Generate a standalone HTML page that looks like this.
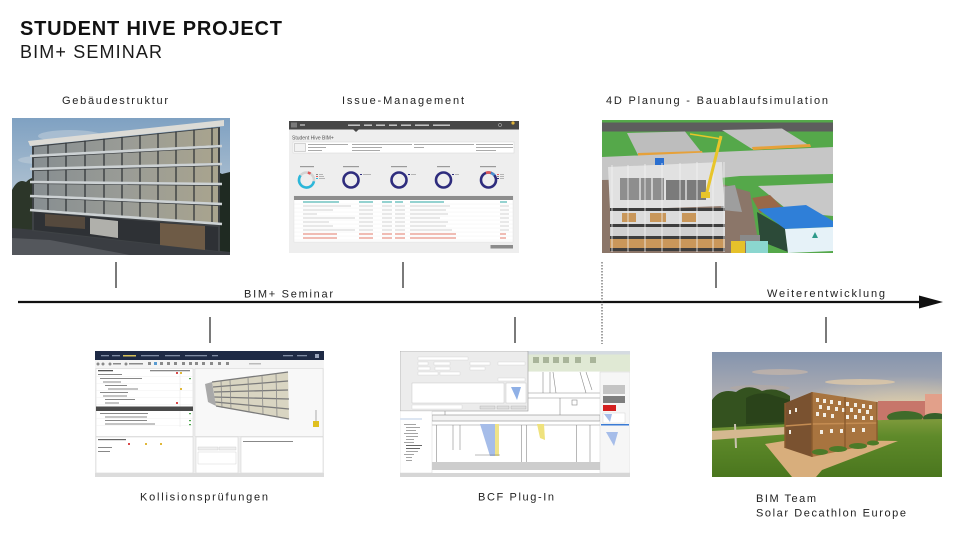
<!DOCTYPE html>
<html><head><meta charset="utf-8">
<style>
html,body{margin:0;padding:0;background:#fff;}
svg{display:block}
text{font-family:"Liberation Sans",sans-serif;}
</style></head>
<body>
<svg width="960" height="540" viewBox="0 0 960 540" xmlns="http://www.w3.org/2000/svg">
<defs>
<linearGradient id="sky1" x1="0" y1="0" x2="0" y2="1"><stop offset="0" stop-color="#7fa1c2"/><stop offset="0.6" stop-color="#b3c4d2"/><stop offset="1" stop-color="#cdd5da"/></linearGradient>
<linearGradient id="glass1" x1="0" y1="0" x2="1" y2="0"><stop offset="0" stop-color="#878e91"/><stop offset="0.5" stop-color="#9a9c96"/><stop offset="1" stop-color="#a9a48e"/></linearGradient>
<linearGradient id="sky6" x1="0" y1="0" x2="0" y2="1"><stop offset="0" stop-color="#8494ae"/><stop offset="0.45" stop-color="#b8b3b3"/><stop offset="1" stop-color="#eccf9c"/></linearGradient>
<radialGradient id="sun6" cx="0.85" cy="0.9" r="0.6"><stop offset="0" stop-color="#fbe1a4" stop-opacity="0.95"/><stop offset="1" stop-color="#fbe1a4" stop-opacity="0"/></radialGradient>
<linearGradient id="grass6" x1="0" y1="0" x2="0" y2="1"><stop offset="0" stop-color="#7e9a3c"/><stop offset="0.3" stop-color="#5f8a2a"/><stop offset="1" stop-color="#4a761e"/></linearGradient>
<clipPath id="c1"><rect x="12" y="118" width="218" height="137"/></clipPath>
<clipPath id="c2"><rect x="289" y="121" width="230" height="132"/></clipPath>
<clipPath id="c3"><rect x="602" y="120" width="231" height="133"/></clipPath>
<clipPath id="c4"><rect x="95" y="351" width="229" height="126"/></clipPath>
<clipPath id="c5"><rect x="400" y="351" width="230" height="126"/></clipPath>
<clipPath id="c6"><rect x="712" y="352" width="230" height="125"/></clipPath>
</defs>

<!-- Titles -->
<text x="20" y="35" font-size="20" font-weight="bold" fill="#111" textLength="262" lengthAdjust="spacing">STUDENT HIVE PROJECT</text>
<text x="20" y="58" font-size="18" fill="#1a1a1a" textLength="142" lengthAdjust="spacing">BIM+ SEMINAR</text>

<!-- Top labels -->
<text x="62" y="104" font-size="11" fill="#222" textLength="106" lengthAdjust="spacing">Gebäudestruktur</text>
<text x="342" y="104" font-size="11" fill="#222" textLength="122" lengthAdjust="spacing">Issue-Management</text>
<text x="606" y="104" font-size="11" fill="#222" textLength="222" lengthAdjust="spacing">4D Planung - Bauablaufsimulation</text>

<!-- Image 1: Gebäudestruktur -->
<g clip-path="url(#c1)">
<rect x="12" y="118" width="218" height="137" fill="url(#sky1)"/>
<ellipse cx="70" cy="136" rx="32" ry="6" fill="#bccbd8" opacity="0.6"/>
<ellipse cx="40" cy="160" rx="22" ry="4" fill="#c3d0da" opacity="0.5"/>
<path d="M12,190 Q18,178 26,182 Q34,174 44,180 L48,232 L12,236Z" fill="#2c3629"/>
<path d="M204,180 Q212,168 222,174 L230,172 L230,252 L204,252Z" fill="#1f2a22"/>
<polygon points="12,228 60,232 140,242 230,252 230,255 12,255" fill="#3a3d42"/>
<polygon points="12,238 50,240 130,255 12,255" fill="#54575c"/>
<polygon points="32,146 220,127 220,252 32,231" fill="#3e4245"/>
<polygon points="34,147 218,128 218,145 34,155" fill="url(#glass1)"/>
<polygon points="34,158 218,148 218,163 34,168" fill="url(#glass1)"/>
<polygon points="34,171 218,166 218,183 34,181" fill="url(#glass1)"/>
<polygon points="34,184 218,186 218,203 34,195" fill="url(#glass1)"/>
<polygon points="34,198 218,206 218,223 34,209" fill="url(#glass1)"/>
<polygon points="34,212 218,227 218,251 34,230" fill="#2e3135"/>
<polygon points="90,218 118,221 118,238 90,234" fill="#b0b0ab"/>
<polygon points="160,223 205,226 205,250 160,245" fill="#6e5b46"/>
<polygon points="45,214 85,217 85,229 45,226" fill="#55493d"/>
<g stroke="#33373a" stroke-width="1.3">
<line x1="48" y1="144.4" x2="48" y2="212.2"/><line x1="66" y1="142.6" x2="66" y2="213.5"/>
<line x1="85" y1="140.6" x2="85" y2="214.9"/><line x1="104" y1="138.7" x2="104" y2="216.4"/>
<line x1="122" y1="136.9" x2="122" y2="217.7"/><line x1="140" y1="135.1" x2="140" y2="219"/>
<line x1="158" y1="133.3" x2="158" y2="220.4"/><line x1="176" y1="131.4" x2="176" y2="221.7"/>
<line x1="194" y1="129.6" x2="194" y2="223.1"/><line x1="212" y1="127.8" x2="212" y2="224.4"/>
</g>
<polygon points="28,141 224,120 224,126 30,146" fill="#dcdbd6"/>
<g stroke="#cdd2d4" stroke-width="2.6">
<line x1="30" y1="156" x2="222" y2="146"/><line x1="30" y1="169" x2="222" y2="164"/>
<line x1="30" y1="182" x2="222" y2="184"/><line x1="30" y1="196" x2="222" y2="204"/>
<line x1="30" y1="210" x2="222" y2="224"/>
</g>
</g>

<!-- Image 2: Issue-Management -->
<g clip-path="url(#c2)">
<rect x="289" y="121" width="230" height="132" fill="#eeeeee"/>
<rect x="289" y="121" width="230" height="8.5" fill="#474747"/>
<rect x="291" y="122.5" width="6" height="5" fill="#7a7a7a"/>
<rect x="300" y="124.3" width="5" height="1.4" fill="#bbb"/>
<g fill="#cfcfcf"><rect x="348" y="124.5" width="12" height="1.4"/><rect x="364" y="124.5" width="8" height="1.4"/><rect x="376" y="124.5" width="9" height="1.4"/><rect x="389" y="124.5" width="8" height="1.4"/><rect x="401" y="124.5" width="10" height="1.4"/><rect x="415" y="124.5" width="14" height="1.4"/><rect x="433" y="124.5" width="17" height="1.4"/></g>
<polygon points="353,129.3 359,129.3 356,132" fill="#474747"/>
<circle cx="500" cy="125" r="1.6" fill="none" stroke="#ccc" stroke-width=".5"/>
<circle cx="513" cy="123" r="1.6" fill="#e2b53a"/>
<text x="292" y="139.5" font-size="5" fill="#555">Student Hive BIM+</text>
<rect x="293" y="142" width="221" height="11" fill="#fff" stroke="#d5d5d5" stroke-width=".5"/>
<rect x="294.5" y="143.5" width="11" height="8" fill="#f2f2f2" stroke="#999" stroke-width=".4"/>
<g fill="#aaa"><rect x="308" y="144" width="40" height="1"/><rect x="308" y="147" width="18" height="1"/><rect x="308" y="150" width="14" height="1"/><rect x="352" y="144" width="60" height="1"/><rect x="352" y="147" width="30" height="1"/><rect x="352" y="150" width="28" height="1"/><rect x="414" y="144" width="60" height="1"/><rect x="414" y="147" width="10" height="1"/><rect x="476" y="144" width="37" height="1"/><rect x="476" y="147" width="37" height="1"/><rect x="476" y="150" width="20" height="1"/></g>
<g fill="#9a9a9a"><rect x="300" y="166" width="14" height="1.2"/><rect x="343" y="166" width="16" height="1.2"/><rect x="391" y="166" width="16" height="1.2"/><rect x="437" y="166" width="13" height="1.2"/><rect x="480" y="166" width="16" height="1.2"/></g>
<circle cx="306.5" cy="180" r="7.5" fill="none" stroke="#d4d4d4" stroke-width="2.6"/>
<circle cx="306.5" cy="180" r="7.5" fill="none" stroke="#2bb7da" stroke-width="2.6" stroke-dasharray="27 20.1" transform="rotate(10 306.5 180)"/>
<circle cx="306.5" cy="180" r="7.5" fill="none" stroke="#e05a5a" stroke-width="2.6" stroke-dasharray="3 44.1" transform="rotate(-80 306.5 180)"/>
<circle cx="351" cy="180" r="7.5" fill="none" stroke="#2e2c7d" stroke-width="2.6"/>
<circle cx="399" cy="180" r="7.5" fill="none" stroke="#2e2c7d" stroke-width="2.6"/>
<circle cx="443.5" cy="180" r="7.5" fill="none" stroke="#2e2c7d" stroke-width="2.6"/>
<circle cx="488.5" cy="180" r="7.5" fill="none" stroke="#2e2c7d" stroke-width="2.6"/>
<circle cx="488.5" cy="180" r="7.5" fill="none" stroke="#e05a5a" stroke-width="2.6" stroke-dasharray="5 42.1" transform="rotate(-110 488.5 180)"/>
<circle cx="488.5" cy="180" r="7.5" fill="none" stroke="#4a8fd0" stroke-width="2.6" stroke-dasharray="4 43.1" transform="rotate(-70 488.5 180)"/>
<g fill="#888"><rect x="316" y="174" width="2" height="1"/><rect x="316" y="176" width="2" height="1" fill="#e05a5a"/><rect x="316" y="178" width="2" height="1" fill="#2bb7da"/><rect x="360" y="174" width="2" height="1" fill="#2e2c7d"/><rect x="408" y="174" width="2" height="1" fill="#2e2c7d"/><rect x="452" y="174" width="2" height="1" fill="#2e2c7d"/><rect x="497" y="174" width="2" height="1" fill="#e05a5a"/><rect x="497" y="176" width="2" height="1"/><rect x="497" y="178" width="2" height="1" fill="#2e2c7d"/></g>
<g fill="#b5b5b5"><rect x="319" y="174" width="4" height="1"/><rect x="319" y="176" width="5" height="1"/><rect x="319" y="178" width="6" height="1"/><rect x="363" y="174" width="8" height="1"/><rect x="411" y="174" width="5" height="1"/><rect x="455" y="174" width="4" height="1"/><rect x="500" y="174" width="4" height="1"/><rect x="500" y="176" width="4" height="1"/><rect x="500" y="178" width="4" height="1"/></g>
<rect x="294" y="196" width="219" height="46" fill="#fff" stroke="#dcdcdc" stroke-width=".4"/>
<rect x="294" y="196" width="219" height="4" fill="#8d8d8d"/>
<g stroke="#ececec" stroke-width=".4">
<line x1="294" y1="204" x2="513" y2="204"/><line x1="294" y1="208" x2="513" y2="208"/><line x1="294" y1="212" x2="513" y2="212"/><line x1="294" y1="216" x2="513" y2="216"/><line x1="294" y1="220" x2="513" y2="220"/><line x1="294" y1="224" x2="513" y2="224"/><line x1="294" y1="228" x2="513" y2="228"/><line x1="294" y1="232" x2="513" y2="232"/><line x1="294" y1="236" x2="513" y2="236"/><line x1="294" y1="240" x2="513" y2="240"/>
</g>
<g fill="#2aa6a0"><rect x="303" y="201.5" width="36" height="1"/><rect x="359" y="201.5" width="14" height="1"/><rect x="382" y="201.5" width="10" height="1"/><rect x="395" y="201.5" width="8" height="1"/><rect x="410" y="201.5" width="34" height="1"/><rect x="500" y="201.5" width="7" height="1"/></g>
<g fill="#d2d2d2">
<rect x="303" y="205.5" width="48" height="1"/><rect x="359" y="205.5" width="14" height="1"/><rect x="382" y="205.5" width="10" height="1"/><rect x="395" y="205.5" width="10" height="1"/><rect x="410" y="205.5" width="40" height="1"/><rect x="500" y="205.5" width="9" height="1"/>
<rect x="303" y="209.5" width="30" height="1"/><rect x="359" y="209.5" width="14" height="1"/><rect x="382" y="209.5" width="10" height="1"/><rect x="395" y="209.5" width="10" height="1"/><rect x="410" y="209.5" width="36" height="1"/><rect x="500" y="209.5" width="9" height="1"/>
<rect x="303" y="213.5" width="14" height="1"/><rect x="359" y="213.5" width="14" height="1"/><rect x="382" y="213.5" width="10" height="1"/><rect x="395" y="213.5" width="10" height="1"/><rect x="410" y="213.5" width="38" height="1"/><rect x="500" y="213.5" width="9" height="1"/>
<rect x="303" y="217.5" width="52" height="1"/><rect x="359" y="217.5" width="14" height="1"/><rect x="382" y="217.5" width="10" height="1"/><rect x="395" y="217.5" width="10" height="1"/><rect x="410" y="217.5" width="30" height="1"/><rect x="500" y="217.5" width="9" height="1"/>
<rect x="303" y="221.5" width="26" height="1"/><rect x="359" y="221.5" width="14" height="1"/><rect x="382" y="221.5" width="10" height="1"/><rect x="395" y="221.5" width="10" height="1"/><rect x="410" y="221.5" width="38" height="1"/><rect x="500" y="221.5" width="9" height="1"/>
<rect x="303" y="225.5" width="30" height="1"/><rect x="359" y="225.5" width="14" height="1"/><rect x="382" y="225.5" width="10" height="1"/><rect x="395" y="225.5" width="10" height="1"/><rect x="410" y="225.5" width="36" height="1"/><rect x="500" y="225.5" width="9" height="1"/>
<rect x="303" y="229.5" width="52" height="1"/><rect x="359" y="229.5" width="14" height="1"/><rect x="382" y="229.5" width="10" height="1"/><rect x="395" y="229.5" width="10" height="1"/><rect x="410" y="229.5" width="42" height="1"/><rect x="500" y="229.5" width="9" height="1"/>
</g>
<g fill="#e07a6a"><rect x="303" y="233.5" width="34" height="1"/><rect x="359" y="233.5" width="14" height="1"/><rect x="382" y="233.5" width="10" height="1"/><rect x="395" y="233.5" width="10" height="1"/><rect x="410" y="233.5" width="46" height="1"/><rect x="500" y="233.5" width="6" height="1"/>
<rect x="303" y="237.5" width="34" height="1"/><rect x="359" y="237.5" width="14" height="1"/><rect x="382" y="237.5" width="10" height="1"/><rect x="395" y="237.5" width="10" height="1"/><rect x="410" y="237.5" width="46" height="1"/><rect x="500" y="237.5" width="6" height="1"/></g>
<rect x="490.5" y="245" width="22.5" height="3.5" fill="#8b8b8b"/>
</g>

<!-- Image 3: 4D Planung -->
<g clip-path="url(#c3)">
<rect x="602" y="120" width="231" height="133" fill="#55a84a"/>
<rect x="602" y="122.5" width="231" height="9" fill="#5d5d5d"/>
<polygon points="627,133 685,131.5 702,153 638,155" fill="#bdbdbd"/>
<polygon points="638,153 702,151 703,154 638,156" fill="#e6a13a"/>
<polygon points="722,130 782,128.5 810,146 752,149" fill="#c2c2c2"/>
<polygon points="752,147 810,144 811,147 753,150" fill="#e6a13a"/>
<polygon points="602,157 833,147 833,174 740,176 700,180 602,182" fill="#c6c6c6"/>
<polygon points="758,186 833,183 833,216 790,212" fill="#c8c8c8"/>
<polygon points="602,180 700,178 750,192 760,253 602,253" fill="#8b7669"/>
<polygon points="715,188 735,185 742,212 722,210" fill="#9e9e9e"/>
<polygon points="608,167 722,162 724,206 610,210" fill="#e1e1e1"/>
<rect x="620" y="178" width="44" height="22" fill="#8e8e8e"/>
<rect x="666" y="180" width="40" height="20" fill="#7b7b7b"/>
<g stroke="#f4f4f4" stroke-width="1.2"><line x1="640" y1="178" x2="640" y2="200"/><line x1="652" y1="178" x2="652" y2="200"/><line x1="686" y1="180" x2="686" y2="200"/></g>
<rect x="655" y="158" width="9" height="7" fill="#2a6fd0"/>
<rect x="610" y="208" width="115" height="3" fill="#3d3d3d"/>
<rect x="610" y="211" width="115" height="13" fill="#dcdcdc"/>
<g fill="#c9975a"><rect x="622" y="213" width="14" height="9"/><rect x="650" y="213" width="16" height="9"/><rect x="682" y="213" width="14" height="9"/></g>
<rect x="610" y="224" width="115" height="3" fill="#3d3d3d"/>
<rect x="610" y="227" width="115" height="9" fill="#d0d0d0"/>
<rect x="610" y="236" width="115" height="3" fill="#3d3d3d"/>
<rect x="610" y="239" width="115" height="9" fill="#c9975a"/>
<rect x="610" y="248" width="115" height="3" fill="#3d3d3d"/>
<g stroke="#f2f2f2" stroke-width=".8"><line x1="612" y1="165" x2="612" y2="252"/><line x1="628" y1="165" x2="628" y2="252"/><line x1="645" y1="164" x2="645" y2="252"/><line x1="662" y1="163" x2="662" y2="252"/><line x1="680" y1="163" x2="680" y2="252"/><line x1="697" y1="162" x2="697" y2="252"/><line x1="713" y1="162" x2="713" y2="252"/><line x1="724" y1="162" x2="724" y2="252"/></g>
<line x1="706" y1="196" x2="721" y2="136" stroke="#e8c52a" stroke-width="3"/>
<line x1="690" y1="134" x2="722" y2="139" stroke="#e8c52a" stroke-width="1.6"/>
<rect x="701" y="192" width="9" height="6" fill="#e8c52a"/>
<polygon points="752,198 770,195 782,207 760,213" fill="#9a6848"/>
<polygon points="757,212 785,228 788,252 760,241" fill="#2c4a38"/>
<polygon points="758,209 806,205 833,221 833,227 785,229" fill="#2f7fd8"/>
<polygon points="785,229 833,227 833,251 788,253" fill="#e6f2f8"/>
<polygon points="812,238 818,238 815,232" fill="#2f9a8a"/>
<rect x="740" y="235" width="20" height="8" fill="#8a8a8a"/>
<rect x="731" y="241" width="14" height="12" fill="#e6c12a"/>
<rect x="746" y="241" width="22" height="12" fill="#8bd6cf"/>
</g>

<!-- Timeline -->
<line x1="18" y1="302" x2="922" y2="302" stroke="#111" stroke-width="2.2"/>
<polygon points="919,295.5 943,302 919,308.5" fill="#111"/>
<g stroke="#222" stroke-width="1.2">
<line x1="116" y1="262" x2="116" y2="288"/><line x1="403" y1="262" x2="403" y2="288"/><line x1="716" y1="262" x2="716" y2="288"/>
<line x1="210" y1="317" x2="210" y2="343"/><line x1="515" y1="317" x2="515" y2="343"/><line x1="826" y1="317" x2="826" y2="343"/>
</g>
<line x1="602" y1="262" x2="602" y2="344" stroke="#444" stroke-width="1" stroke-dasharray="1.5 1.5"/>
<text x="244" y="297.5" font-size="11" fill="#222" textLength="89" lengthAdjust="spacing">BIM+ Seminar</text>
<text x="767" y="297" font-size="11" fill="#222" textLength="118" lengthAdjust="spacing">Weiterentwicklung</text>

<!-- Image 4: Kollisionsprüfungen -->
<g clip-path="url(#c4)">
<rect x="95" y="351" width="229" height="126" fill="#efefef"/>
<rect x="95" y="351" width="229" height="9" fill="#1e2a45"/>
<g fill="#7f8ba3"><rect x="101" y="355" width="8" height="1.3"/><rect x="112" y="355" width="8" height="1.3"/><rect x="141" y="355" width="18" height="1.3"/><rect x="165" y="355" width="15" height="1.3"/><rect x="185" y="355" width="22" height="1.3"/><rect x="212" y="355" width="6" height="1.3"/><rect x="283" y="355" width="10" height="1.3"/><rect x="297" y="355" width="10" height="1.3"/></g>
<rect x="123" y="355" width="13" height="1.5" fill="#d6c15a"/>
<rect x="315" y="354" width="4" height="4" fill="#9aa5bb"/>
<rect x="95" y="360" width="229" height="8" fill="#f4f4f4"/>
<g fill="#8a8a8a"><circle cx="98" cy="364" r="1.5"/><circle cx="103" cy="364" r="1.5"/><circle cx="110" cy="364" r="1.5"/><rect x="113" y="363" width="8" height="1.5"/><circle cx="126" cy="364" r="1.5"/><rect x="129" y="363" width="14" height="1.5"/><rect x="148" y="362" width="3" height="3"/><rect x="154" y="362" width="3" height="3" fill="#5a9bd0"/><rect x="160" y="362" width="3" height="3"/><rect x="167" y="362" width="3" height="3"/><rect x="174" y="362" width="3" height="3"/><rect x="182" y="362" width="3" height="3"/><rect x="189" y="362" width="3" height="3"/><rect x="195" y="362" width="3" height="3"/><rect x="202" y="362" width="3" height="3"/><rect x="210" y="362" width="3" height="3"/><rect x="218" y="362" width="3" height="3"/><rect x="226" y="362" width="3" height="3"/><rect x="249" y="363" width="12" height="1.5" fill="#bbb"/></g>
<rect x="96" y="368.5" width="97" height="68" fill="#fff" stroke="#cfcfcf" stroke-width=".5"/>
<rect x="98" y="370" width="15" height="1.3" fill="#555"/>
<rect x="150" y="370" width="40" height="1.3" fill="#888"/>
<g fill="#888">
<rect x="98" y="374" width="24" height="1"/><rect x="100" y="378" width="42" height="1"/><rect x="103" y="381.5" width="18" height="1"/><rect x="105" y="385" width="22" height="1"/><rect x="108" y="388.5" width="30" height="1"/><rect x="100" y="392" width="28" height="1"/><rect x="103" y="395.5" width="24" height="1"/><rect x="105" y="399" width="30" height="1"/><rect x="105" y="402.5" width="14" height="1"/><rect x="100" y="413" width="48" height="1"/><rect x="105" y="416.5" width="42" height="1"/><rect x="105" y="420" width="42" height="1"/><rect x="105" y="423.5" width="50" height="1"/>
</g>
<g stroke="#eeeeee" stroke-width=".4"><line x1="96" y1="376.5" x2="193" y2="376.5"/><line x1="96" y1="383.5" x2="193" y2="383.5"/><line x1="96" y1="390.5" x2="193" y2="390.5"/><line x1="96" y1="397.5" x2="193" y2="397.5"/><line x1="96" y1="404.5" x2="193" y2="404.5"/><line x1="96" y1="418.5" x2="193" y2="418.5"/><line x1="96" y1="425.5" x2="193" y2="425.5"/></g>
<line x1="180" y1="372" x2="180" y2="427" stroke="#e0e0e0" stroke-width=".4"/>
<rect x="96" y="406.5" width="97" height="4.5" fill="#4a4a4a"/>
<g fill="#4aa44a"><rect x="189" y="378" width="2" height="1.2"/><rect x="189" y="413" width="2" height="1.2"/><rect x="189" y="420" width="2" height="1.2"/><rect x="189" y="424" width="2" height="1.2"/></g>
<g fill="#e0b83a"><rect x="180" y="372" width="2" height="2"/><rect x="180" y="388" width="2" height="2"/></g>
<g fill="#d94a4a"><rect x="176" y="372" width="2" height="2"/><rect x="176" y="402" width="2" height="2"/></g>
<rect x="195" y="368.5" width="128" height="68" fill="#f8f8f8" stroke="#d5d5d5" stroke-width=".5"/>
<polygon points="212,382 288,372 289,419 216,406" fill="#d9d5c2"/>
<g stroke="#7a7a7a" stroke-width="1.3" fill="none">
<polyline points="212,382 288,372"/><polyline points="213,387 288,381"/><polyline points="214,392 288,390"/><polyline points="214,397 289,399"/><polyline points="215,402 289,409"/><polyline points="216,406 289,419"/>
</g>
<g stroke="#8a8a8a" stroke-width=".8"><line x1="230" y1="380" x2="231" y2="409"/><line x1="248" y1="377" x2="249" y2="412"/><line x1="262" y1="375.5" x2="263" y2="414"/><line x1="276" y1="373.5" x2="277" y2="417"/><line x1="221" y1="381" x2="222" y2="408"/></g>
<polygon points="205,384 212,382 216,406 208,402" fill="#a9a9a9"/>
<rect x="313" y="421" width="6" height="6" fill="#e0c020"/>
<line x1="316" y1="410" x2="316" y2="421" stroke="#777" stroke-width=".6"/>
<rect x="96" y="437" width="97" height="36" fill="#fff" stroke="#cfcfcf" stroke-width=".5"/>
<rect x="98" y="439" width="28" height="1.2" fill="#666"/>
<g fill="#888"><rect x="98" y="447" width="14" height="1"/><rect x="98" y="451" width="12" height="1"/></g>
<g fill="#d94a4a"><rect x="128" y="443" width="2" height="2"/></g><g fill="#e0b83a"><rect x="145" y="443" width="2" height="2"/><rect x="160" y="443" width="2" height="2"/></g>
<rect x="196" y="437" width="42" height="36" fill="#fff" stroke="#cfcfcf" stroke-width=".5"/>
<rect x="198" y="447" width="20" height="3" fill="#eee" stroke="#bbb" stroke-width=".3"/>
<rect x="219" y="447" width="17" height="3" fill="#eee" stroke="#bbb" stroke-width=".3"/>
<rect x="198" y="452" width="38" height="12" fill="#fff" stroke="#bbb" stroke-width=".3"/>
<rect x="241" y="437" width="82" height="36" fill="#fff" stroke="#cfcfcf" stroke-width=".5"/>
<rect x="243" y="441" width="50" height="1" fill="#888"/>
<rect x="95" y="473" width="229" height="4" fill="#dcdcdc"/>
</g>

<!-- Image 5: BCF Plug-In -->
<g clip-path="url(#c5)">
<rect x="400" y="351" width="230" height="126" fill="#fafafa"/>
<rect x="528" y="351" width="102" height="3.5" fill="#d5dbe1"/>
<rect x="528" y="354.5" width="102" height="17" fill="#e0e9d4"/>
<g fill="#a9b59a"><rect x="533" y="357" width="6" height="6"/><rect x="543" y="357" width="6" height="6"/><rect x="553" y="357" width="6" height="6"/><rect x="563" y="357" width="6" height="6"/><rect x="575" y="357" width="6" height="6"/><rect x="590" y="357" width="6" height="6"/></g>
<rect x="432" y="372" width="168" height="101" fill="#fff"/>
<g stroke="#8a8a8a" stroke-width=".6" fill="none">
<line x1="432" y1="393" x2="600" y2="393"/><line x1="432" y1="398" x2="600" y2="398"/>
<rect x="432" y="415" width="168" height="6" fill="#f3f3f3"/>
<line x1="432" y1="425" x2="600" y2="425"/>
<line x1="543" y1="372" x2="543" y2="393"/><line x1="550" y1="372" x2="550" y2="393"/><line x1="553" y1="372" x2="556" y2="393"/>
<line x1="580" y1="372" x2="586" y2="393"/><line x1="586" y1="372" x2="592" y2="390"/>
<line x1="436.7" y1="425" x2="436.7" y2="462"/><line x1="453" y1="425" x2="453" y2="450"/><line x1="460" y1="425" x2="460" y2="450"/>
<line x1="521.7" y1="425" x2="521.7" y2="462"/><line x1="526.7" y1="425" x2="526.7" y2="462"/>
<line x1="576.7" y1="425" x2="576.7" y2="462"/><line x1="590" y1="425" x2="590" y2="462"/>
<line x1="560" y1="398" x2="560" y2="415"/><line x1="445" y1="398" x2="445" y2="415"/>
<rect x="572" y="400" width="5" height="5"/>
</g>
<polygon points="480,424 497,424 499,456 490,456" fill="#a6bde9"/>
<rect x="495" y="424" width="4" height="32" fill="#efe38a"/>
<polygon points="537,424 544,424 545,440 540,438" fill="#efe27d"/>
<line x1="475" y1="455" x2="500" y2="455" stroke="#777" stroke-width=".5"/>
<rect x="432" y="462" width="168" height="8" fill="#cdcdcd"/>
<rect x="400" y="351" width="128" height="60" fill="#ececec" stroke="#9a9a9a" stroke-width=".6"/>
<g fill="#fff" stroke="#c5c5c5" stroke-width=".3">
<rect x="418" y="357" width="50" height="3"/><rect x="418" y="362" width="10" height="3"/><rect x="434" y="362" width="16" height="3"/><rect x="470" y="362" width="20" height="3"/><rect x="418" y="367" width="12" height="3"/><rect x="435" y="367" width="15" height="3"/><rect x="470" y="367" width="15" height="3"/><rect x="418" y="372" width="20" height="3"/><rect x="440" y="372" width="20" height="3"/><rect x="498" y="362" width="27" height="3"/><rect x="498" y="378" width="27" height="3"/>
</g>
<rect x="412" y="383" width="92" height="20" fill="#fff" stroke="#bbb" stroke-width=".4"/>
<rect x="506" y="383" width="20" height="20" fill="#fff" stroke="#bbb" stroke-width=".4"/>
<polygon points="511,387 521,387 517,400" fill="#8fb0e6"/>
<rect x="412" y="405" width="50" height="4" fill="#fff" stroke="#c5c5c5" stroke-width=".3"/>
<g fill="#dedede" stroke="#999" stroke-width=".3"><rect x="480" y="406" width="15" height="3"/><rect x="497" y="406" width="12" height="3"/><rect x="511" y="406" width="15" height="3"/></g>
<rect x="400" y="411" width="32" height="62" fill="#fff" stroke="#ccc" stroke-width=".4"/>
<rect x="400" y="418" width="22" height="2" fill="#dde6f2"/>
<g fill="#9a9a9a"><rect x="404" y="424" width="12" height=".9"/><rect x="406" y="427" width="14" height=".9"/><rect x="406" y="430" width="10" height=".9"/><rect x="404" y="433" width="14" height=".9"/><rect x="406" y="436" width="12" height=".9"/><rect x="406" y="439" width="8" height=".9"/><rect x="404" y="442" width="10" height=".9"/><rect x="406" y="445" width="16" height=".9" fill="#555"/><rect x="406" y="448" width="14" height=".9" fill="#555"/><rect x="406" y="451" width="12" height=".9"/><rect x="404" y="454" width="10" height=".9"/><rect x="406" y="457" width="6" height=".9"/><rect x="406" y="460" width="6" height=".9"/></g>
<rect x="600" y="372" width="30" height="101" fill="#f6f6f6" stroke="#ccc" stroke-width=".4"/>
<rect x="603" y="385" width="22" height="9" fill="#c4c4c4"/>
<rect x="603" y="396" width="22" height="7" fill="#7e7e7e"/>
<rect x="603" y="405" width="13" height="6" fill="#d42020"/>
<rect x="603" y="413" width="22" height="10" fill="#fff" stroke="#bbb" stroke-width=".3"/>
<polygon points="604,414 612,414 610,422" fill="#a6bde9"/>
<rect x="601" y="424" width="28" height="1.5" fill="#3a7bd5"/>
<polygon points="606,432 618,432 614,446" fill="#a6bde9"/>
<rect x="400" y="473" width="230" height="4" fill="#d6d6d6"/>
</g>

<!-- Image 6: Solar Decathlon -->
<g clip-path="url(#c6)">
<rect x="712" y="352" width="230" height="125" fill="url(#sky6)"/>
<rect x="712" y="352" width="230" height="80" fill="url(#sun6)"/>
<ellipse cx="780" cy="372" rx="28" ry="3" fill="#c7b7a9" opacity=".7"/>
<ellipse cx="860" cy="382" rx="35" ry="3" fill="#e7cda6" opacity=".7"/>
<ellipse cx="760" cy="388" rx="30" ry="3" fill="#b6a89e" opacity=".6"/>
<rect x="878" y="401" width="50" height="19" fill="#c7766a"/>
<rect x="925" y="394" width="17" height="26" fill="#e2a08a"/>
<ellipse cx="905" cy="417" rx="18" ry="6" fill="#3f6b2a"/>
<ellipse cx="935" cy="418" rx="12" ry="5" fill="#35602a"/>
<polygon points="712,423 942,419 942,477 712,477" fill="url(#grass6)"/>
<path d="M712,400 Q720,388 736,392 Q748,383 762,391 Q776,386 790,396 L790,424 L712,428Z" fill="#34521f"/>
<path d="M746,398 Q760,390 775,396 L790,400 L790,422 L746,424Z" fill="#2a431a"/>
<line x1="735" y1="424" x2="736" y2="448" stroke="#c9c2b0" stroke-width="2"/>
<polygon points="712,431 785,427 790,434 712,440" fill="#d4b890"/>
<polygon points="765,444 790,440 898,441 822,470 816,477 792,477" fill="#d8ae7c"/>
<polygon points="785,403 812,392 812,457 785,448" fill="#7a5230"/>
<polygon points="812,392 877,402 877,443 812,457" fill="#a8743f"/>
<g fill="#f3eee4">
<rect x="816" y="398" width="3" height="4"/><rect x="823" y="399" width="3" height="4"/><rect x="830" y="400" width="3" height="4"/><rect x="838" y="401" width="3" height="4"/><rect x="846" y="402" width="3" height="4"/><rect x="854" y="403" width="3" height="4"/><rect x="862" y="404" width="3" height="4"/><rect x="869" y="405" width="3" height="4"/>
<rect x="819" y="405" width="3" height="4"/><rect x="827" y="406" width="3" height="4"/><rect x="835" y="407" width="3" height="4"/><rect x="842" y="408" width="3" height="4"/><rect x="850" y="408" width="3" height="4"/><rect x="858" y="409" width="3" height="4"/><rect x="866" y="410" width="3" height="4"/>
<rect x="816" y="412" width="3" height="4"/><rect x="823" y="413" width="3" height="4"/><rect x="831" y="414" width="3" height="4"/><rect x="846" y="415" width="3" height="4"/><rect x="854" y="415" width="3" height="4"/><rect x="862" y="416" width="3" height="4"/><rect x="870" y="416" width="3" height="4"/>
<rect x="820" y="430" width="3" height="4"/><rect x="830" y="429" width="3" height="4"/><rect x="840" y="429" width="3" height="4"/><rect x="852" y="428" width="3" height="4"/><rect x="862" y="428" width="3" height="4"/>
<rect x="789" y="410" width="2" height="4"/><rect x="795" y="408" width="2" height="4"/><rect x="789" y="430" width="2" height="4"/>
</g>
<polyline points="785,426 812,424 877,423" fill="none" stroke="#c48c52" stroke-width="1.5"/>
<g stroke="#8a5a2e" stroke-width="1.4"><line x1="812" y1="392" x2="812" y2="457"/><line x1="845" y1="397" x2="845" y2="450"/><line x1="877" y1="402" x2="877" y2="443"/><line x1="785" y1="403" x2="785" y2="448"/></g>
<g fill="#4c7a28"><ellipse cx="820" cy="452" rx="8" ry="3"/><ellipse cx="838" cy="449" rx="9" ry="3"/><ellipse cx="858" cy="446" rx="9" ry="3"/><ellipse cx="873" cy="443" rx="6" ry="2.5"/></g>
</g>

<!-- Bottom labels -->
<text x="140" y="500.5" font-size="11" fill="#222" textLength="128" lengthAdjust="spacing">Kollisionsprüfungen</text>
<text x="478" y="500.5" font-size="11" fill="#222" textLength="76" lengthAdjust="spacing">BCF Plug-In</text>
<text x="756" y="502" font-size="11" fill="#222" textLength="60" lengthAdjust="spacing">BIM Team</text>
<text x="756" y="516.5" font-size="11" fill="#222" textLength="150" lengthAdjust="spacing">Solar Decathlon Europe</text>
</svg>
</body></html>
